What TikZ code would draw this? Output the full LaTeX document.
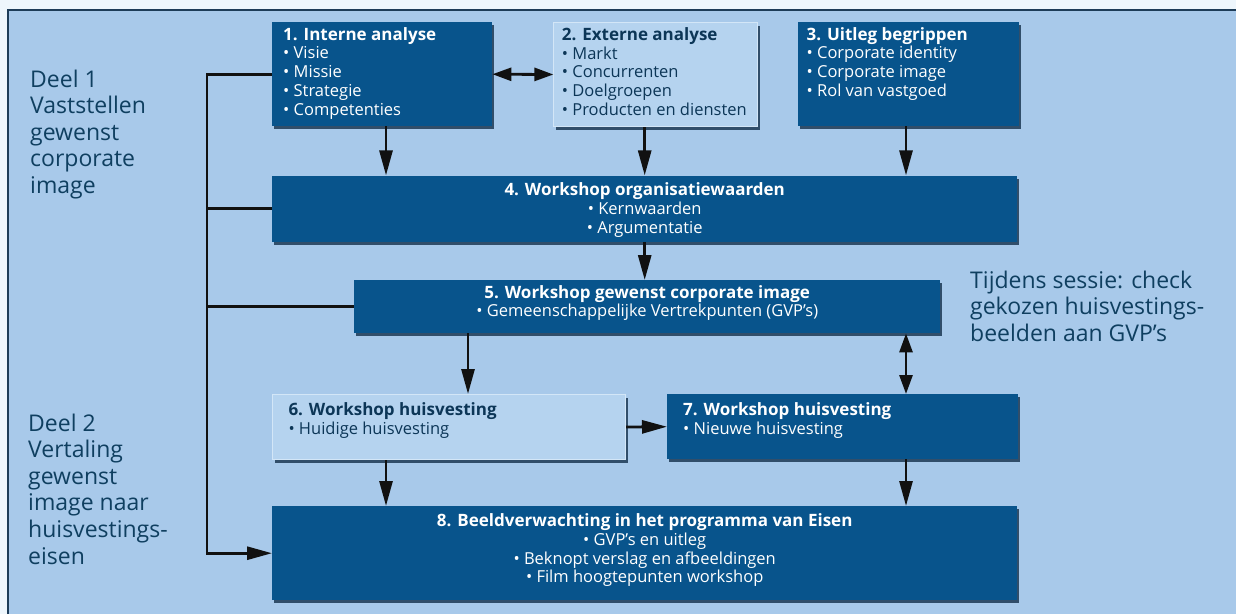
\documentclass[tikz,border=0pt]{standalone}
\usepackage{fontspec}
\setmainfont{Open Sans}
\usetikzlibrary{positioning,arrows.meta,shadows}

\definecolor{achtergrond}{HTML}{EEF6FC}
\definecolor{paneel}{HTML}{A8C9EA}
\definecolor{paneelrand}{HTML}{1D3C58}
\definecolor{donkerblauw}{HTML}{08548C}
\definecolor{lichtblauw}{HTML}{B5D3EF}
\definecolor{lichtrand}{HTML}{D3E6F7}
\definecolor{navy}{HTML}{0C3657}
\definecolor{zijtekst}{HTML}{0F3F60}
\definecolor{schaduw}{HTML}{0A2640}
\definecolor{zwart}{HTML}{111111}

\newcommand{\blokfont}{\fontsize{16.5}{18.7}\selectfont}
\newcommand{\zijfont}{\fontsize{23}{26.6}\selectfont}
\newcommand{\titel}[1]{{\fontsize{17}{18.7}\selectfont\bfseries#1}}
\newcommand{\bul}{\textbullet\ }
% tekst bovenaan in een blok van vaste maat
\newcommand{\inhoud}[3]{\parbox[t][#2][t]{#1}{\strut#3}}
\newcommand{\inhoudmidden}[3]{\parbox[t][#2][t]{#1}{\centering\strut#3}}
\newcommand{\zijblok}[1]{\parbox[t]{260pt}{\raggedright#1}}

\tikzset{
  blok/.style={anchor=north west, inner sep=0pt, font=\blokfont,
    drop shadow={shadow xshift=2pt, shadow yshift=-3pt, fill=schaduw, opacity=.75}},
  donker/.style={blok, fill=donkerblauw, text=white},
  licht/.style={blok, fill=lichtblauw, draw=lichtrand, line width=1pt, text=navy},
  zij/.style={anchor=base west, inner sep=0pt, text=zijtekst, font=\zijfont},
  lijn/.style={line width=2.8pt, draw=zwart},
  pijl/.style={lijn, -{Triangle[length=25pt,width=13pt]}},
  dubbel/.style={lijn, {Triangle[length=19pt,width=13pt]}-{Triangle[length=19pt,width=13pt]}},
}

\begin{document}
\begin{tikzpicture}[x=1pt, y=-1pt]
  \useasboundingbox (0,0) rectangle (1236,614);
  \fill[achtergrond] (0,0) rectangle (1236,614);
  \fill[paneel] (8,10) rectangle (1236,614);
  \draw[paneelrand, line width=1.5pt] (8,614) -- (8,10) -- (1236,10);

  % zijteksten
  \node[zij] (deel1) at (30,87) {\zijblok{Deel 1\\Vaststellen\\gewenst\\corporate\\image}};
  \node[zij] (deel2) at (28,431) {\zijblok{Deel 2\\Vertaling\\gewenst\\image naar\\huisvestings-\\eisen}};
  \node[zij] (sessie) at (970,288) {\zijblok{Tijdens sessie: check\\gekozen huisvestings-\\beelden aan GVP’s}};

  % stappen
  \node[donker, inner xsep=11pt, inner ysep=5pt] (analyse1) at (272,22)
    {\inhoud{198pt}{94pt}{\titel{1. Interne analyse}\\\bul Visie\\\bul Missie\\\bul Strategie\\\bul Competenties}};
  \node[licht, inner xsep=8pt, inner ysep=5pt, right=61pt of analyse1.north east, anchor=north west] (analyse2)
    {\inhoud{188pt}{94pt}{\titel{2. Externe analyse}\\\bul Markt\\\bul Concurrenten\\\bul Doelgroepen\\\bul Producten en diensten}};
  \node[donker, inner xsep=9pt, inner ysep=5pt, right=39pt of analyse2.north east, anchor=north west] (analyse3)
    {\inhoud{203pt}{94pt}{\titel{3. Uitleg begrippen}\\\bul Corporate identity\\\bul Corporate image\\\bul Rol van vastgoed}};
  \node[donker, inner xsep=10pt, inner ysep=7pt, below=49pt of analyse1.south west, anchor=north west] (workshop4)
    {\inhoudmidden{725pt}{52pt}{\titel{4. Workshop organisatiewaarden}\\\bul Kernwaarden\\\bul Argumentatie}};
  \node[donker, inner xsep=10pt, inner ysep=5pt] (workshop5) at (354,280)
    {\inhoudmidden{566pt}{43pt}{\titel{5. Workshop gewenst corporate image}\\\bul Gemeenschappelijke Vertrekpunten (GVP’s)}};
  \node[licht, inner xsep=16pt, inner ysep=8pt] (huis6) at (272,394)
    {\inhoud{321pt}{49pt}{\titel{6. Workshop huisvesting}\\\bul Huidige huisvesting}};
  \node[donker, inner xsep=16pt, inner ysep=8pt, right=41pt of huis6.north east, anchor=north west] (huis7)
    {\inhoud{319pt}{49pt}{\titel{7. Workshop huisvesting}\\\bul Nieuwe huisvesting}};
  \node[donker, inner xsep=10pt, inner ysep=7.5pt] (beeld8) at (272,506)
    {\inhoudmidden{725pt}{79pt}{\titel{8. Beeldverwachting in het programma van Eisen}\\\bul GVP’s en uitleg\\\bul Beknopt verslag en afbeeldingen\\\bul Film hoogtepunten workshop}};

  % kolommen voor de pijlen
  \coordinate (kolA) at (386,0);
  \coordinate (kolB) at (906,0);
  \coordinate (kolC) at (468,0);
  \coordinate (rug) at (207,0);

  \draw[dubbel] (analyse1.east) -- (analyse2.west);
  \draw[pijl] (analyse1.south -| kolA) -- (workshop4.north -| kolA);
  \draw[pijl] (analyse2.south -| workshop4.north) -- (workshop4.north);
  \draw[pijl] (analyse3.south -| kolB) -- (workshop4.north -| kolB);
  \draw[pijl] (workshop4.south) -- (workshop4.south |- workshop5.north);
  \draw[pijl] (workshop5.south -| kolC) -- (huis6.north -| kolC);
  \draw[dubbel] (workshop5.south -| kolB) -- (huis7.north -| kolB);
  \draw[pijl] (huis6.east) -- (huis7.west);
  \draw[pijl] (huis6.south -| kolA) -- (beeld8.north -| kolA);
  \draw[pijl] (huis7.south -| kolB) -- (beeld8.north -| kolB);

  % terugkoppeling links
  \draw[pijl] (analyse1.west) -- (analyse1.west -| rug) |- (beeld8.west);
  \draw[lijn] (workshop4.west) -- (workshop4.west -| rug);
  \draw[lijn] (workshop5.west) -- (workshop5.west -| rug);
\end{tikzpicture}
\end{document}
